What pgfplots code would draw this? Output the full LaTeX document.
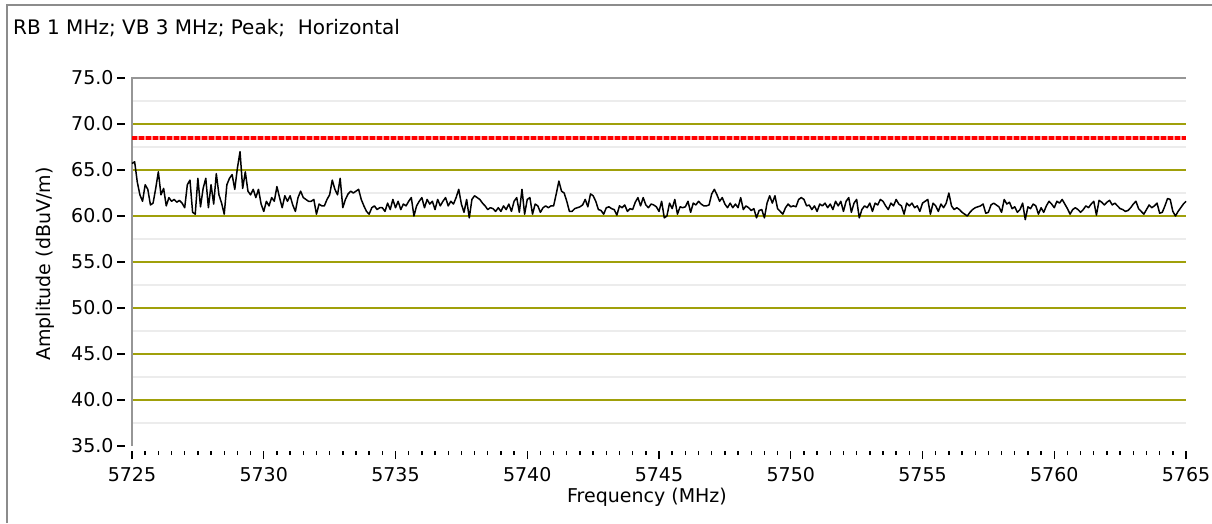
\documentclass[border=0pt]{standalone}
\usepackage{pgfplots}
\pgfplotsset{compat=1.18}
\usepackage{fontspec}
\setmainfont{DejaVu Sans}
\definecolor{gridolive}{RGB}{160,160,10}
\definecolor{minorgrid}{RGB}{236,236,236}
\definecolor{axgray}{RGB}{150,150,150}
\definecolor{framegray}{RGB}{140,140,140}
\definecolor{limpink}{RGB}{255,150,150}
\newcommand{\chartfont}{\fontsize{19}{22}\selectfont}
\begin{document}
\begin{tikzpicture}[x=1pt,y=1pt]
\useasboundingbox (0pt,0pt) rectangle (1212pt,523pt);
\fill[white] (0pt,0pt) rectangle (1212pt,523pt);
\draw[framegray, line width=2pt] (7pt,0pt) -- (7pt,518pt) -- (1212pt,518pt);
\node[anchor=base west, inner sep=0pt, font=\fontsize{20}{23}\selectfont] at (13pt,488pt) {RB 1 MHz; VB 3 MHz; Peak;\ \ Horizontal};
\begin{axis}[
  at={(125pt,72pt)}, anchor=south west,
  scale only axis, width=1061pt, height=373pt,
  xmin=5724.7343, xmax=5765, ymin=34.4565, ymax=75,
  axis x line*=bottom, axis y line*=left,
  axis line style={draw=none},
  xtick={5725,5730,5735,5740,5745,5750,5755,5760,5765},
  minor x tick num=9,
  ytick={35,40,45,50,55,60,65,70,75},
  tick align=outside,
  major tick length=8pt, minor tick length=4pt,
  every tick/.style={black, line width=1.4pt},
  ticklabel style={font=\chartfont},
  /pgf/number format/assume math mode=true,
  xticklabel style={/pgf/number format/1000 sep={}, yshift=-5pt},
  yticklabel style={/pgf/number format/.cd, fixed, fixed zerofill, precision=1},
  label style={font=\chartfont},
  xlabel={Frequency (MHz)},
  ylabel={Amplitude (dBuV/m)},
  xlabel style={at={(axis description cs:0.492,-0.1233)}, anchor=center},
  ylabel style={at={(axis description cs:-0.0754,0.501)}, anchor=center},
  clip=false,
]
\pgfplotsinvokeforeach{37.5,42.5,47.5,52.5,57.5,62.5,67.5,72.5}{
  \draw[minorgrid, line width=1.5pt] (axis cs:5725,#1) -- (axis cs:5765,#1);
}
\pgfplotsinvokeforeach{40,45,50,55,60,65,70}{
  \draw[gridolive, line width=2.2pt] (axis cs:5725,#1) -- (axis cs:5765,#1);
}
\draw[axgray, line width=2pt] (axis cs:5725,35) -- (axis cs:5725,75) -- (axis cs:5765,75);
\addplot[limpink, line width=3.5pt, forget plot] coordinates {(5725,68.5) (5765,68.5)};
\addplot[red, line width=3.5pt, dash pattern=on 5pt off 2pt] coordinates {(5725,68.5) (5765,68.5)};
\addplot[black, line width=1.5pt, line join=round] table {
5725.0 65.7
5725.1 65.9
5725.2 63.7
5725.3 62.3
5725.4 61.6
5725.5 63.4
5725.6 62.9
5725.7 61.2
5725.8 61.4
5725.9 63.0
5726.0 64.8
5726.1 62.3
5726.2 63.0
5726.3 61.1
5726.4 62.0
5726.5 61.6
5726.6 61.8
5726.7 61.5
5726.8 61.7
5726.9 61.4
5727.0 60.9
5727.1 63.4
5727.2 63.9
5727.3 60.4
5727.4 60.2
5727.5 64.1
5727.6 61.0
5727.7 63.0
5727.8 64.1
5727.9 60.9
5728.0 63.4
5728.1 61.3
5728.2 64.6
5728.3 62.3
5728.4 61.4
5728.5 60.2
5728.6 63.4
5728.7 64.1
5728.8 64.5
5728.9 62.9
5729.0 65.2
5729.1 67.0
5729.2 63.0
5729.3 64.8
5729.4 62.7
5729.5 62.3
5729.6 62.9
5729.7 62.0
5729.8 62.9
5729.9 61.3
5730.0 60.5
5730.1 61.6
5730.2 61.1
5730.3 62.0
5730.4 61.6
5730.5 63.2
5730.6 62.0
5730.7 60.9
5730.8 62.2
5730.9 61.6
5731.0 62.2
5731.1 61.2
5731.2 60.5
5731.3 62.0
5731.4 62.7
5731.5 62.0
5731.6 61.8
5731.7 61.6
5731.8 61.6
5731.9 61.8
5732.0 60.2
5732.1 61.3
5732.2 61.1
5732.3 61.1
5732.4 61.8
5732.5 62.3
5732.6 63.9
5732.7 62.9
5732.8 62.3
5732.9 64.1
5733.0 60.9
5733.1 61.8
5733.2 62.4
5733.3 62.7
5733.4 62.5
5733.5 62.7
5733.6 62.9
5733.7 61.8
5733.8 61.1
5733.9 60.5
5734.0 60.2
5734.1 60.9
5734.2 61.1
5734.3 60.7
5734.4 60.9
5734.5 60.9
5734.6 60.5
5734.7 61.4
5734.8 60.7
5734.9 61.8
5735.0 60.9
5735.1 61.6
5735.2 60.7
5735.3 61.3
5735.4 61.1
5735.5 61.6
5735.6 62.0
5735.7 60.0
5735.8 61.1
5735.9 61.6
5736.0 62.0
5736.1 60.9
5736.2 61.8
5736.3 61.3
5736.4 61.6
5736.5 60.7
5736.6 61.8
5736.7 61.1
5736.8 61.6
5736.9 62.0
5737.0 61.1
5737.1 61.6
5737.2 61.3
5737.3 62.0
5737.4 62.9
5737.5 61.3
5737.6 60.4
5737.7 61.8
5737.8 59.8
5737.9 61.8
5738.0 62.2
5738.1 62.0
5738.2 61.8
5738.3 61.4
5738.4 61.1
5738.5 60.7
5738.6 60.9
5738.7 60.8
5738.8 60.5
5738.9 60.9
5739.0 60.5
5739.1 61.1
5739.2 60.7
5739.3 61.3
5739.4 60.5
5739.5 61.6
5739.6 62.0
5739.7 60.4
5739.8 62.9
5739.9 60.2
5740.0 61.8
5740.1 62.0
5740.2 60.2
5740.3 61.3
5740.4 61.1
5740.5 60.4
5740.6 60.9
5740.7 61.1
5740.8 60.9
5740.9 61.1
5741.0 61.1
5741.1 62.4
5741.2 63.8
5741.3 62.7
5741.4 62.5
5741.5 61.6
5741.6 60.5
5741.7 60.5
5741.8 60.8
5741.9 60.9
5742.0 61.0
5742.1 61.2
5742.2 61.8
5742.3 61.0
5742.4 62.4
5742.5 62.2
5742.6 61.6
5742.7 60.7
5742.8 60.6
5742.9 60.2
5743.0 60.9
5743.1 61.0
5743.2 60.8
5743.3 60.7
5743.4 60.1
5743.5 61.1
5743.6 60.9
5743.7 61.2
5743.8 60.5
5743.9 60.8
5744.0 60.7
5744.1 61.5
5744.2 62.0
5744.3 61.1
5744.4 62.0
5744.5 61.2
5744.6 60.9
5744.7 61.3
5744.8 61.2
5744.9 61.0
5745.0 60.5
5745.1 61.6
5745.2 59.8
5745.3 60.0
5745.4 61.4
5745.5 60.8
5745.6 61.8
5745.7 60.2
5745.8 61.0
5745.9 60.9
5746.0 61.0
5746.1 61.6
5746.2 60.4
5746.3 61.4
5746.4 61.2
5746.5 61.6
5746.6 61.3
5746.7 61.1
5746.8 61.1
5746.9 61.2
5747.0 62.4
5747.1 62.9
5747.2 62.3
5747.3 61.6
5747.4 62.0
5747.5 61.3
5747.6 60.9
5747.7 61.4
5747.8 60.9
5747.9 61.3
5748.0 60.9
5748.1 62.0
5748.2 60.7
5748.3 61.1
5748.4 60.9
5748.5 60.6
5748.6 60.8
5748.7 59.8
5748.8 60.6
5748.9 60.7
5749.0 59.8
5749.1 61.4
5749.2 62.2
5749.3 61.4
5749.4 62.2
5749.5 60.8
5749.6 60.5
5749.7 60.2
5749.8 60.9
5749.9 61.3
5750.0 61.0
5750.1 61.1
5750.2 61.0
5750.3 61.8
5750.4 62.0
5750.5 61.8
5750.6 61.1
5750.7 61.2
5750.8 60.7
5750.9 61.1
5751.0 60.5
5751.1 61.3
5751.2 61.1
5751.3 61.4
5751.4 60.9
5751.5 61.3
5751.6 60.7
5751.7 61.6
5751.8 61.1
5751.9 61.6
5752.0 60.5
5752.1 61.6
5752.2 62.0
5752.3 60.4
5752.4 61.4
5752.5 61.8
5752.6 59.8
5752.7 60.7
5752.8 61.1
5752.9 60.9
5753.0 61.4
5753.1 60.5
5753.2 61.4
5753.3 61.2
5753.4 61.8
5753.5 61.6
5753.6 61.1
5753.7 60.7
5753.8 61.4
5753.9 61.1
5754.0 61.8
5754.1 61.3
5754.2 61.1
5754.3 60.2
5754.4 61.4
5754.5 61.1
5754.6 61.4
5754.7 60.9
5754.8 61.1
5754.9 60.5
5755.0 61.4
5755.1 61.6
5755.2 61.8
5755.3 60.2
5755.4 61.4
5755.5 61.1
5755.6 60.5
5755.7 61.3
5755.8 60.9
5755.9 61.4
5756.0 62.5
5756.1 61.1
5756.2 60.7
5756.3 60.9
5756.4 60.7
5756.5 60.4
5756.6 60.2
5756.7 60.0
5756.8 60.4
5756.9 60.7
5757.0 60.9
5757.1 61.0
5757.2 61.1
5757.3 61.3
5757.4 60.3
5757.5 60.4
5757.6 61.2
5757.7 61.4
5757.8 61.2
5757.9 61.0
5758.0 60.4
5758.1 61.8
5758.2 61.3
5758.3 61.5
5758.4 60.8
5758.5 61.0
5758.6 60.4
5758.7 60.7
5758.8 61.4
5758.9 59.6
5759.0 61.0
5759.1 60.8
5759.2 61.3
5759.3 61.1
5759.4 60.2
5759.5 60.9
5759.6 60.4
5759.7 61.1
5759.8 61.6
5759.9 61.3
5760.0 60.9
5760.1 61.6
5760.2 61.4
5760.3 61.8
5760.4 61.3
5760.5 60.8
5760.6 60.2
5760.7 60.7
5760.8 60.9
5760.9 60.7
5761.0 60.4
5761.1 60.7
5761.2 61.1
5761.3 60.9
5761.4 61.3
5761.5 61.6
5761.6 60.1
5761.7 61.7
5761.8 61.5
5761.9 61.2
5762.0 61.5
5762.1 61.7
5762.2 61.2
5762.3 61.4
5762.4 61.1
5762.5 60.8
5762.6 60.7
5762.7 60.5
5762.8 60.6
5762.9 60.9
5763.0 61.3
5763.1 61.6
5763.2 60.8
5763.3 60.5
5763.4 60.2
5763.5 60.7
5763.6 61.2
5763.7 60.9
5763.8 61.1
5763.9 61.4
5764.0 60.3
5764.1 60.4
5764.2 61.1
5764.3 61.9
5764.4 61.8
5764.5 60.5
5764.6 60.0
5764.7 60.5
5764.8 60.9
5764.9 61.3
5765.0 61.6
};
\end{axis}
\end{tikzpicture}
\end{document}
